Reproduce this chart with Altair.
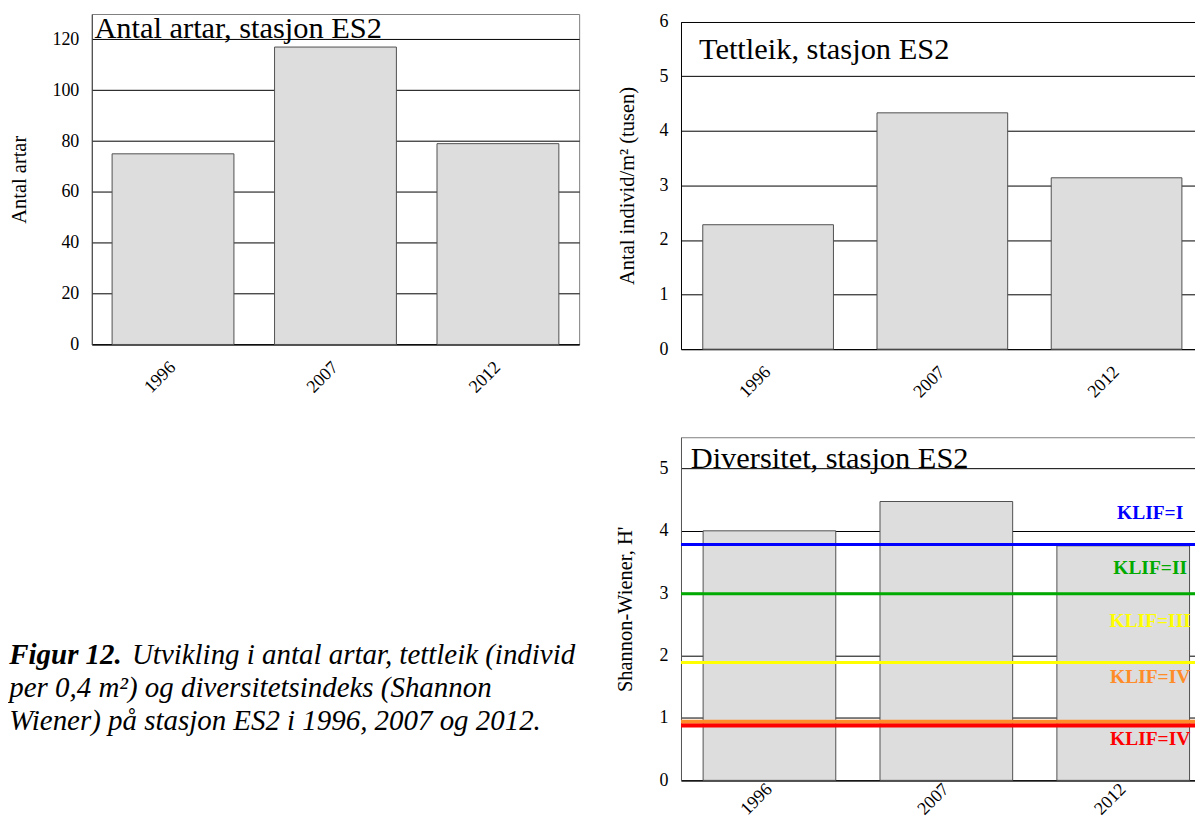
import altair as alt
import pandas as pd

# ---------------- data ----------------
years = ["1996", "2007", "2012"]
antal_artar = [75, 117, 79]
tettleik = [2.28, 4.33, 3.14]
diversitet = [4.00, 4.47, 3.76]

klif_names = ["KLIF=I", "KLIF=II", "KLIF=III", "KLIF=IV", "KLIF=IV"]
klif_colors = ["#0000FF", "#00AA00", "#FFFF00", "#FF8C28", "#FF0000"]
klif_limits = [3.78, 2.99, 1.89, 0.94, 0.88]
klif_widths = [3, 3, 3, 4, 4]
klif_label_pos = [4.29, 3.40, 2.55, 1.65, 0.66]

titles = ["Antal artar, stasjon ES2", "Tettleik, stasjon ES2", "Diversitet, stasjon ES2"]
y_titles = ["Antal artar", "Antal individ/m² (tusen)", "Shannon-Wiener, H'"]
y_ticks = [[0, 20, 40, 60, 80, 100, 120], [0, 1, 2, 3, 4, 5, 6], [0, 1, 2, 3, 4, 5]]
y_max = [130, 6, 5.5]
caption_bold = "Figur 12."
caption_lines = [
    "Utvikling i antal artar, tettleik (individ",
    "per 0,4 m²) og diversitetsindeks (Shannon",
    "Wiener) på stasjon ES2 i 1996, 2007 og 2012.",
]

FONT = "Liberation Serif"


def x_axis(pad):
    return alt.Axis(title=None, labelAngle=315, labelAlign="right", labelBaseline="middle",
                    labelPadding=pad, ticks=False, tickSize=0, labelFont=FONT, labelFontSize=18,
                    labelColor="black", domainColor="black", domainWidth=1, grid=False)


def y_axis(values, title, title_x, domain_color="black"):
    return alt.Axis(values=values, title=title, titleX=title_x, titleAngle=270, titleAlign="center",
                    titleBaseline="middle", titleFont=FONT, titleFontSize=20.5, titleFontWeight="normal",
                    titleColor="black", labelFont=FONT, labelFontSize=18, labelColor="black",
                    labelPadding=13, ticks=False, tickSize=0, grid=True, gridColor="black",
                    gridWidth=1, gridOpacity=1, domainColor=domain_color, domainWidth=1, format="d")


def bars(values, field, yscale, yaxis, pad):
    df = pd.DataFrame({"year": years, field: values})
    return alt.Chart(df).mark_bar(fill="#DDDDDD", stroke="#505050", strokeWidth=1).encode(
        x=alt.X("year:N", sort=years, scale=alt.Scale(paddingInner=0.25, paddingOuter=0.125),
                axis=x_axis(pad)),
        y=alt.Y(f"{field}:Q", scale=yscale, axis=yaxis),
    )


def title_text(t, x, y):
    return alt.Chart(pd.DataFrame({"t": [t]})).mark_text(
        align="left", baseline="alphabetic", font=FONT, fontSize=30.5, color="black"
    ).encode(text="t:N", x=alt.value(x), y=alt.value(y))


# ---------- chart 1 ----------
c1 = alt.layer(
    bars(antal_artar, "artar", alt.Scale(domain=[0, y_max[0]], nice=False),
         y_axis(y_ticks[0], y_titles[0], -72.4, "#404040"), 20),
    title_text(titles[0], 2.6, 24),
).properties(width=488.6, height=331.3, view=alt.ViewBackground(stroke="#808080", strokeWidth=1))

# ---------- chart 2 ----------
c2 = alt.layer(
    bars(tettleik, "tettleik", alt.Scale(domain=[0, y_max[1]], nice=False, range=[336, 7.7]),
         y_axis(y_ticks[1], y_titles[1], -53.5), 20),
    title_text(titles[1], 18, 45.3),
).properties(width=524, height=336)

# ---------- chart 3 ----------
klif_df = pd.DataFrame({
    "name": klif_names, "color": klif_colors, "limit": klif_limits,
    "w": klif_widths, "lab": klif_label_pos, "year": ["2012"] * len(klif_names),
})
klif_rules = alt.Chart(klif_df).mark_rule().encode(
    y=alt.Y("limit:Q"),
    color=alt.Color("color:N", scale=None),
    strokeWidth=alt.StrokeWidth("w:Q", scale=None),
)
klif_text = alt.Chart(klif_df).mark_text(
    font=FONT, fontSize=19.5, fontWeight="bold", dx=27, align="center", baseline="middle"
).encode(
    x=alt.X("year:N", sort=years),
    y=alt.Y("lab:Q"),
    text="name:N",
    color=alt.Color("color:N", scale=None),
)
c3 = alt.layer(
    bars(diversitet, "diversitet", alt.Scale(domain=[0, y_max[2]], nice=False),
         y_axis(y_ticks[2], y_titles[2], -55.7, "#555555"), 6),
    klif_rules,
    klif_text,
    title_text(titles[2], 9.7, 31),
).properties(width=532, height=344, view=alt.ViewBackground(stroke="#808080", strokeWidth=1))

# ---------- caption ----------
cap_layers = [
    alt.Chart(pd.DataFrame({"t": [caption_bold]})).mark_text(
        align="left", baseline="alphabetic", font=FONT, fontSize=29, fontStyle="italic",
        fontWeight="bold", color="black"
    ).encode(text="t:N", x=alt.value(-82.7), y=alt.value(227.4)),
    alt.Chart(pd.DataFrame({"t": [caption_lines[0]]})).mark_text(
        align="left", baseline="alphabetic", font=FONT, fontSize=29, fontStyle="italic", color="black"
    ).encode(text="t:N", x=alt.value(40.3), y=alt.value(227.4)),
    alt.Chart(pd.DataFrame({"t": [caption_lines[1]]})).mark_text(
        align="left", baseline="alphabetic", font=FONT, fontSize=29, fontStyle="italic", color="black"
    ).encode(text="t:N", x=alt.value(-82.7), y=alt.value(260)),
    alt.Chart(pd.DataFrame({"t": [caption_lines[2]]})).mark_text(
        align="left", baseline="alphabetic", font=FONT, fontSize=29, fontStyle="italic", color="black"
    ).encode(text="t:N", x=alt.value(-82.7), y=alt.value(293.4)),
]
cap = alt.layer(*cap_layers).properties(width=488.6, height=344)

chart = alt.concat(
    c1, c2, cap, c3, columns=2, bounds="flush", spacing={"row": 88.3, "column": 101.7}
).configure_view(stroke="transparent").properties(
    padding={"left": 0, "top": 3, "right": -20, "bottom": 0}
)

chart.save("out.html", embed_options={"renderer": "svg", "actions": False})
